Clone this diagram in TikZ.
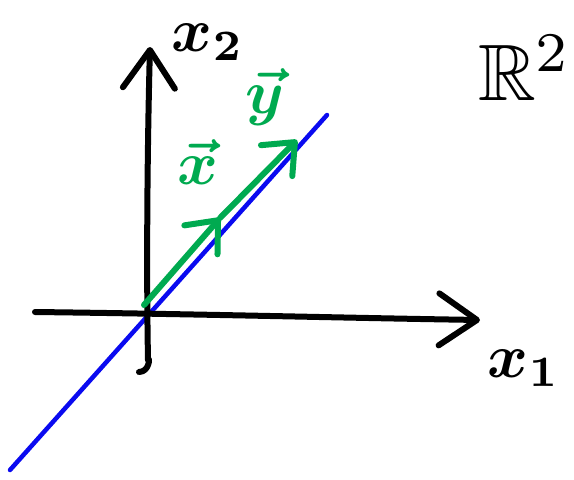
\documentclass[tikz,border=0pt]{standalone}
\usepackage{graphicx}
\usepackage{amssymb}
\usetikzlibrary{arrows.meta}
\definecolor{pengreen}{RGB}{0,170,80}
\definecolor{penblue}{RGB}{10,10,240}
\newcommand{\hwtext}[1]{\scalebox{6.2}{\boldmath #1}}
\tikzset{
  axis/.style={line width=6pt, line cap=round, line join=round, black},
  axtip/.style={-{Straight Barb[length=38pt,width=52pt,round]}},
  vecline/.style={line width=6pt, line cap=round, line join=round, pengreen},
  vectip/.style={-{Straight Barb[length=26pt,width=44pt,round]}},
  bline/.style={line width=4.5pt, line cap=round, penblue},
  lbl/.style={inner sep=0pt},
  glbl/.style={lbl, text=pengreen}
}
\begin{document}
\begin{tikzpicture}[x=1pt,y=-1pt]
\useasboundingbox (0,0) rectangle (574,480);
% coordinates
\coordinate (xl) at (35,312);
\coordinate (xr) at (480,320);
\coordinate (yb) at (148,360);
\coordinate (yt) at (150,47);
\coordinate (hook) at (139,372);
\coordinate (bl) at (10,470);
\coordinate (bt) at (327,115);
\coordinate (o) at (144,305);
\coordinate (v1) at (220,218);
\coordinate (v2) at (297,140);
% blue line
\draw[bline] (bl) -- (bt);
% axes
\draw[axis, axtip] (xl) .. controls (200,314) and (350,318) .. (xr);
\draw[axis, axtip] (hook) .. controls (150,372) and (150,355) .. (yb) .. controls (146,250) and (148,120) .. (yt);
% vectors
\draw[vecline, vectip] (o) -- (v1);
\draw[vecline, vectip] (v1) -- (v2);
% labels
\node[lbl] (lx2) at (208,42) {\hwtext{$x_2$}};
\node[lbl] (lx1) at (524,368) {\hwtext{$x_1$}};
\node[lbl] (lR) at (525,68) {\scalebox{8}{$\mathbb{R}^2$}};
\node[glbl] (lvx) at (198,162) {\hwtext{$\vec{x}$}};
\node[glbl] (lvy) at (265,97) {\hwtext{$\vec{y}$}};
\end{tikzpicture}
\end{document}
